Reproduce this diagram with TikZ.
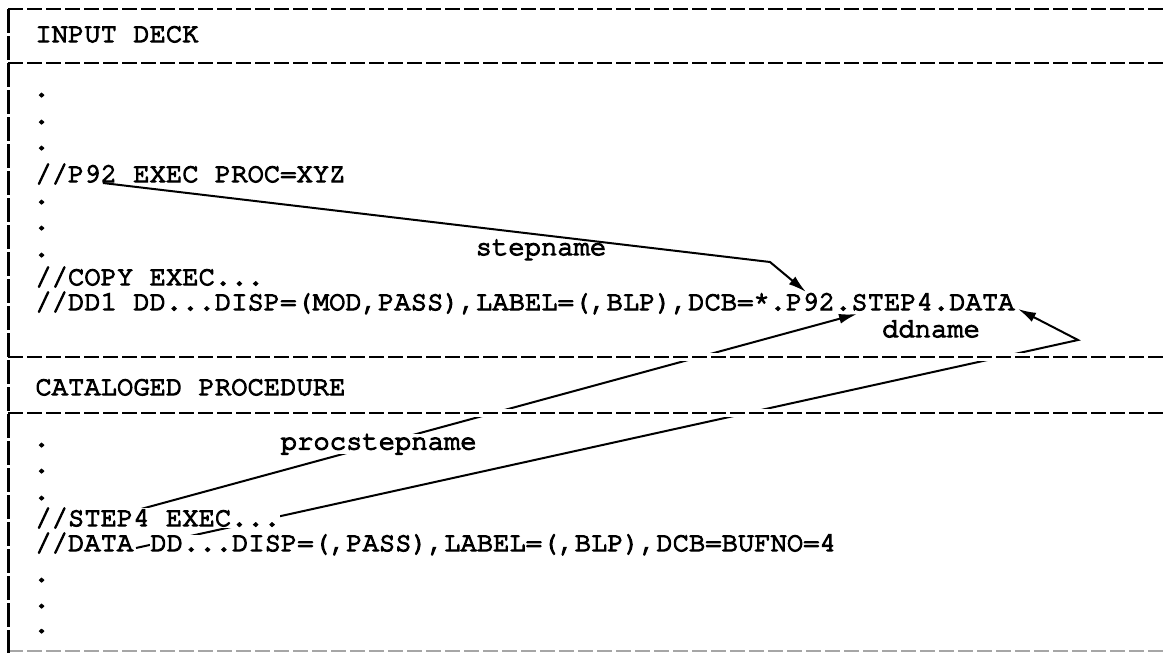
\documentclass[tikz,border=0pt]{standalone}
\usepackage{fontspec}
\newfontfamily\deckfont{texgyrecursor-regular.otf}[FakeBold=4.5]
\usetikzlibrary{arrows.meta,positioning,calc}
\pgfdeclarelayer{back}
\pgfsetlayers{back,main}

\begin{document}
\begin{tikzpicture}[
    x=0.5pt, y=-0.5pt,
    code/.style={anchor=base west, inner sep=0pt, font={\deckfont\fontsize{13.6}{16}\selectfont}},
    codemask/.style={code, fill=white},
    tag/.style={code, anchor=base},
    rule/.style={line width=1.1pt, dash pattern=on 7.5pt off 2pt,
                 preaction={draw=white, solid, line width=3.8pt}},
    border/.style={line width=1.5pt, dash pattern=on 12pt off 1.5pt},
    link/.style={line width=1pt},
    arrow/.style={link, -{Latex[length=9pt, width=5pt]}}
  ]
    \useasboundingbox (0,0) rectangle (1165,653);

    % frame
    \foreach \y in {9,63,357,413}
      \draw[rule] (8,\y) -- (1165,\y);
    \draw[rule, draw=black!35] (8,651) -- (1165,651);
    \draw[border] (8,9) -- (8,653);

    % input deck
    \node[code] (deck) at (35,42) {INPUT DECK};
    \node[code] (p92) at (35,182) {//P92 EXEC PROC=XYZ};
    \node[code] (copy) at (35,285) {//COPY EXEC...};
    \node[code] (dd1) at (35,310) {//DD1 DD...DISP=(MOD,PASS),LABEL=(,BLP),DCB=*.P92.STEP4.DATA};

    % cataloged procedure
    \node[code] (catproc) at (35,395) {CATALOGED PROCEDURE};
    \node[codemask] (step4) at (35,526) {//STEP4 EXEC...};
    \node[codemask] (data) at (35,551) {//DATA};
    \node[codemask] (datadd) at ($(data.base east)+(16.32,0)$) {DD...DISP=(,PASS),LABEL=(,BLP),DCB=BUFNO=4};

    \foreach \y [count=\i] in {96.5,123.5,149.5,203.5,229.5,256.5,446.5,472.5,499.5,581.5,607.5,632.5}
      \node[code] (dot\i) at (33,\y) {.};

    \node[tag] (stepname) at (541,255) {stepname};
    \node[tag] (ddname) at (931,337) {ddname};

    % references
    \begin{pgfonlayer}{back}
      \coordinate (p92src) at (103,183);
      \coordinate (p92bend) at (770,262);
      \coordinate (p92tip) at (806,292);
      \draw[arrow] (p92src) -- (p92bend) -- (p92tip);

      \coordinate (procsrc) at (141,509);
      \coordinate (proctip) at (857,314);
      \draw[arrow] (procsrc) -- node[code, anchor=center, fill=white, pos=0.332] (procstepname) {procstepname} (proctip);

      \coordinate (ddsrc) at (136,548);
      \coordinate (ddbend) at (1078,340);
      \coordinate (ddtip) at (1018,309);
      \draw[arrow] (ddsrc) -- (ddbend) -- (ddtip);
    \end{pgfonlayer}
\end{tikzpicture}
\end{document}
